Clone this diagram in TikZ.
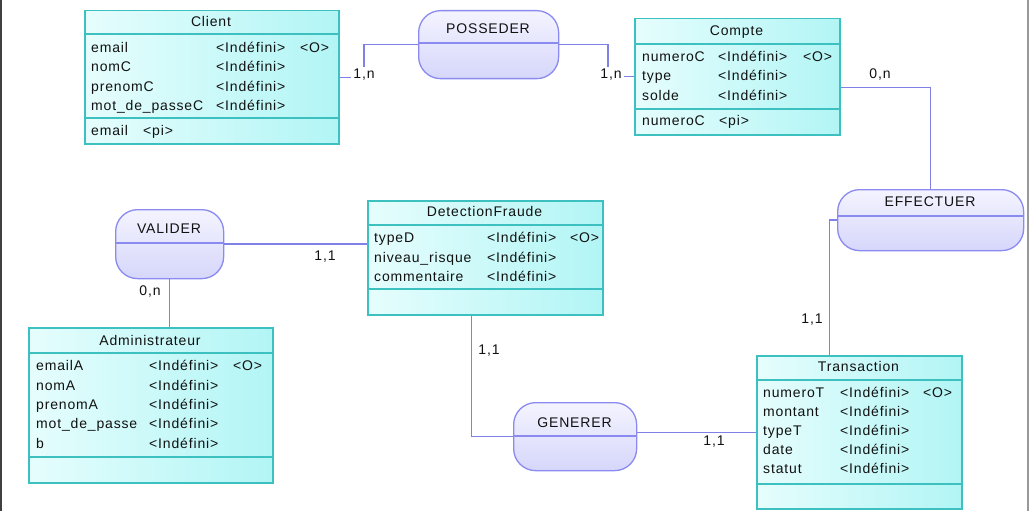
\documentclass[tikz,border=0pt]{standalone}
\usepackage{fontspec}
\setmainfont{Liberation Sans}[LetterSpace=6]
\usetikzlibrary{calc}
\definecolor{entborder}{HTML}{3CC0C0}
\definecolor{entlight}{HTML}{E6FDFD}
\definecolor{entdark}{HTML}{B2F5F5}
\definecolor{assborder}{HTML}{8A8AF0}
\definecolor{asslight}{HTML}{F4F4FF}
\definecolor{assdark}{HTML}{D6D6FB}
\definecolor{linkcol}{HTML}{8080E6}
\definecolor{txt}{HTML}{111111}
\newcommand\myfont{\fontsize{14}{16}\selectfont}
\newcommand\arow[6]{\node[lbl] (#1a) at (#3,#2) {#4}; \node[lbl] (#1b) at (#5,#2) {#6};}
\tikzset{
 entity/.style={draw=entborder, line width=1.5pt, left color=entlight, right color=entdark, rectangle, inner sep=0pt, anchor=north west},
 assoc/.style={draw=assborder, line width=1.3pt, top color=asslight, bottom color=assdark, rectangle, rounded corners=22pt, inner sep=0pt, anchor=north west},
 sepline/.style={draw=entborder, line width=1.5pt},
 asepline/.style={draw=assborder, line width=1.3pt},
 link/.style={draw=linkcol, line width=1.4pt},
 lbl/.style={text=txt, inner sep=0pt, anchor=base west, font=\myfont},
 ttl/.style={text=txt, inner sep=0pt, anchor=base, font=\myfont},
 card/.style={text=txt, fill=white, inner sep=2pt, font=\myfont},
 cardnf/.style={text=txt, inner sep=0pt, font=\myfont},
}
\begin{document}
\begin{tikzpicture}[x=1pt,y=-1pt]
\useasboundingbox (0,0) rectangle (1029,511);
\draw[line width=1.5pt, draw=black!75] (1,0) -- (1,511);
\draw[line width=1.5pt, draw=black!40] (1028,0) -- (1028,511);

% ---------- entities ----------
\node[entity, minimum width=254pt, minimum height=133pt] (client) at (84,10) {};
\draw[sepline] (84,34) -- (338,34);
\draw[sepline] (84,118) -- (338,118);
\node[ttl] (clientT) at (211,26.5) {Client};
\arow{c1}{52.5}{91}{email}{216}{<Indéfini>}
\node[lbl] (c1o) at (300,52.5) {<O>};
\arow{c2}{72}{91}{nomC}{216}{<Indéfini>}
\arow{c3}{91.5}{91}{prenomC}{216}{<Indéfini>}
\arow{c4}{110.5}{91}{mot\_de\_passeC}{216}{<Indéfini>}
\arow{cp}{135.5}{91}{email}{143}{<pi>}

\node[entity, minimum width=205pt, minimum height=116pt] (compte) at (634,18) {};
\draw[sepline] (634,44) -- (839,44);
\draw[sepline] (634,109) -- (839,109);
\node[ttl] (compteT) at (736.5,35.5) {Compte};
\arow{k1}{61.5}{642}{numeroC}{718}{<Indéfini>}
\node[lbl] (k1o) at (803,61.5) {<O>};
\arow{k2}{81}{642}{type}{718}{<Indéfini>}
\arow{k3}{100.5}{642}{solde}{718}{<Indéfini>}
\arow{kp}{125.5}{642}{numeroC}{719}{<pi>}

\node[entity, minimum width=235pt, minimum height=114pt] (detection) at (367,200) {};
\draw[sepline] (367,225) -- (602,225);
\draw[sepline] (367,289) -- (602,289);
\node[ttl] (detectionT) at (484.5,216.5) {DetectionFraude};
\arow{d1}{242.5}{374}{typeD}{487}{<Indéfini>}
\node[lbl] (d1o) at (570,242.5) {<O>};
\arow{d2}{262}{374}{niveau\_risque}{487}{<Indéfini>}
\arow{d3}{281.5}{374}{commentaire}{487}{<Indéfini>}

\node[entity, minimum width=244pt, minimum height=155pt] (admin) at (28,327) {};
\draw[sepline] (28,353) -- (272,353);
\draw[sepline] (28,457) -- (272,457);
\node[ttl] (adminT) at (150,345.5) {Administrateur};
\arow{a1}{370.5}{36}{emailA}{149}{<Indéfini>}
\node[lbl] (a1o) at (233,370.5) {<O>};
\arow{a2}{390}{36}{nomA}{149}{<Indéfini>}
\arow{a3}{409.5}{36}{prenomA}{149}{<Indéfini>}
\arow{a4}{428.5}{36}{mot\_de\_passe}{149}{<Indéfini>}
\arow{a5}{448}{36}{b}{149}{<Indéfini>}

\node[entity, minimum width=205pt, minimum height=153pt] (transaction) at (756,355) {};
\draw[sepline] (756,380) -- (961,380);
\draw[sepline] (756,484) -- (961,484);
\node[ttl] (transactionT) at (858.5,371.5) {Transaction};
\arow{t1}{397.5}{763}{numeroT}{840}{<Indéfini>}
\node[lbl] (t1o) at (923,397.5) {<O>};
\arow{t2}{416.5}{763}{montant}{840}{<Indéfini>}
\arow{t3}{435.5}{763}{typeT}{840}{<Indéfini>}
\arow{t4}{454.5}{763}{date}{840}{<Indéfini>}
\arow{t5}{473.5}{763}{statut}{840}{<Indéfini>}

% ---------- associations ----------
\node[assoc, minimum width=140pt, minimum height=68pt] (posseder) at (418,10) {};
\draw[asepline] (418,43) -- (558,43);
\node[ttl] (possederT) at (488,33.5) {POSSEDER};

\node[assoc, minimum width=108pt, minimum height=69pt] (valider) at (115,209) {};
\draw[asepline] (115,243) -- (223,243);
\node[ttl] (validerT) at (169,233.5) {VALIDER};

\node[assoc, minimum width=186pt, minimum height=61pt] (effectuer) at (837,189) {};
\draw[asepline] (837,216) -- (1023,216);
\node[ttl] (effectuerT) at (930,206.5) {EFFECTUER};

\node[assoc, minimum width=123pt, minimum height=68pt] (generer) at (513,402) {};
\draw[asepline] (513,436) -- (636,436);
\node[ttl] (genererT) at (574.5,427.5) {GENERER};

% ---------- links ----------
\draw[link] (client.east) -| ([xshift=-54pt]posseder.west) -- (posseder.west);
\draw[link] (posseder.east) -| ([xshift=-26pt]compte.west) -- (compte.west);
\draw[link] ([yshift=-11pt]compte.east) -| (effectuer.north);
\draw[link] (effectuer.west) -| ([xshift=-30pt]transaction.north);
\draw[link] (valider.east) -- (valider.east -| detection.west);
\draw[link] (valider.south) -- (valider.south |- admin.north);
\draw[link] ([xshift=-14pt]detection.south) |- (generer.west);
\draw[link] (transaction.west) -- (transaction.west -| generer.east);

% ---------- cardinalities ----------
\node[card] (k1) at (364,75) {1,n};
\node[card] (k2) at (611,75) {1,n};
\node[cardnf] (k3) at (880,75) {0,n};
\node[cardnf] (k4) at (812,320) {1,1};
\node[cardnf] (k5) at (325,257) {1,1};
\node[cardnf] (k6) at (150,292) {0,n};
\node[cardnf] (k7) at (489,351) {1,1};
\node[cardnf] (k8) at (714,442) {1,1};
\end{tikzpicture}
\end{document}
